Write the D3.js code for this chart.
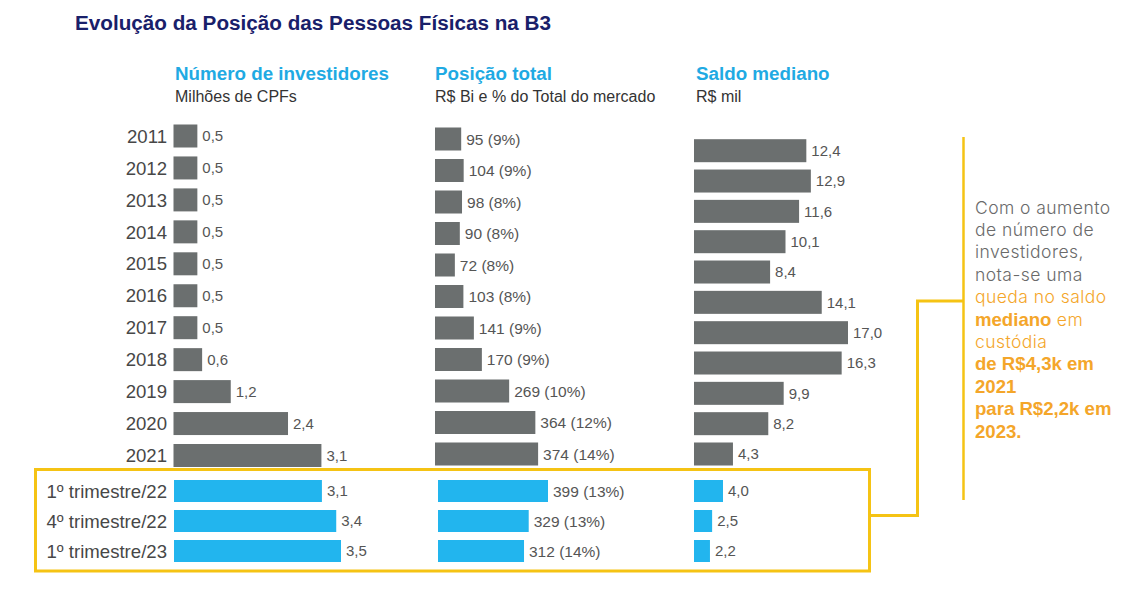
<!DOCTYPE html>
<html>
<head>
<meta charset="utf-8">
<script src="https://cdn.jsdelivr.net/npm/d3@7"></script>
<style>
  html, body { margin: 0; padding: 0; background: #ffffff; }
  svg { display: block; }
</style>
</head>
<body>
<svg id="chart" width="1147" height="604"></svg>
<script>
// ---------- DATA ----------
const years = ["2011","2012","2013","2014","2015","2016","2017","2018","2019","2020","2021"];
const quarters = ["1º trimestre/22","4º trimestre/22","1º trimestre/23"];

const investidoresAnual = [0.5,0.5,0.5,0.5,0.5,0.5,0.5,0.6,1.2,2.4,3.1];
const investidoresTrim = [3.1,3.4,3.5];

const posicaoAnual = [95,104,98,90,72,103,141,170,269,364,374];
const posicaoPctAnual = [9,9,8,8,8,8,9,9,10,12,14];
const posicaoTrim = [399,329,312];
const posicaoPctTrim = [13,13,14];

const saldoAnual = [12.4,12.9,11.6,10.1,8.4,14.1,17.0,16.3,9.9,8.2,4.3];
const saldoTrim = [4.0,2.5,2.2];

const titleText = "Evolução da Posição das Pessoas Físicas na B3";
const headers = [
  { title: "Número de investidores", sub: "Milhões de CPFs" },
  { title: "Posição total", sub: "R$ Bi e % do Total do mercado" },
  { title: "Saldo mediano", sub: "R$ mil" }
];
const noteLines = [
  [{t:"Com o aumento", s:"g"}],
  [{t:"de número de", s:"g"}],
  [{t:"investidores,", s:"g"}],
  [{t:"nota-se uma", s:"g"}],
  [{t:"queda no saldo", s:"o"}],
  [{t:"mediano", s:"ob"},{t:" em", s:"o"}],
  [{t:"custódia", s:"o"}],
  [{t:"de R$4,3k em", s:"ob"}],
  [{t:"2021", s:"ob"}],
  [{t:"para R$2,2k em", s:"ob"}],
  [{t:"2023.", s:"ob"}]
];

// ---------- STYLE ----------
const GREY = "#6b6f6f", BLUE = "#22b5ee", YEL = "#f5c314", ORANGE = "#f4a62a";
const NAVY = "#19206a", HBLUE = "#1faae3", TXT = "#474747", VAL = "#555555";
const FONT = "Liberation Sans, Arial, sans-serif";

const fmt = v => d3.format(".1f")(v).replace(".", ",");

const svg = d3.select("#chart");

// Title
svg.append("text").attr("x", 75).attr("y", 30)
  .attr("font-family", FONT).attr("font-weight", "bold").attr("font-size", 20.7)
  .attr("fill", NAVY).text(titleText);

// Column headers
const headX = [175, 435, 696];
headers.forEach((h, i) => {
  svg.append("text").attr("x", headX[i]).attr("y", 80)
    .attr("font-family", FONT).attr("font-weight", "bold").attr("font-size", 18.8)
    .attr("fill", HBLUE).text(h.title);
  svg.append("text").attr("x", headX[i]).attr("y", 102)
    .attr("font-family", FONT).attr("font-size", 16)
    .attr("fill", "#333").text(h.sub);
});

// Scales
const yAnual1 = d3.scalePoint().domain(years).range([136, 455.5]);
const yAnual2 = d3.scalePoint().domain(years).range([139, 454]);
const yAnual3 = d3.scalePoint().domain(years).range([150.7, 454]);
const yTrim = d3.scalePoint().domain(quarters).range([491, 551]);

const x1 = d3.scaleLinear().domain([0, 3.5]).range([0, 167]);
const x2 = d3.scaleLinear().domain([0, 399]).range([0, 110]);
const x3 = d3.scaleLinear().domain([0, 17]).range([0, 154]);
const x3t = d3.scaleLinear().domain([0, 4]).range([0, 29]);

function drawBars(cats, vals, y, x, x0, h, color, labelFn, fs) {
  const grp = svg.append("g");
  grp.selectAll("rect").data(vals).join("rect")
    .attr("x", x0).attr("y", (d, i) => y(cats[i]) - h / 2)
    .attr("width", d => x(d)).attr("height", h).attr("fill", color);
  grp.selectAll("text").data(vals).join("text")
    .attr("x", d => x0 + x(d) + 5).attr("y", (d, i) => y(cats[i]))
    .attr("dy", "0.36em")
    .attr("font-family", FONT).attr("font-size", fs).attr("fill", VAL)
    .text((d, i) => labelFn(d, i));
}

// Row labels
svg.append("g").selectAll("text").data(years).join("text")
  .attr("x", 167).attr("y", d => yAnual1(d)).attr("dy", "0.36em")
  .attr("text-anchor", "end").attr("font-family", FONT).attr("font-size", 18.6)
  .attr("fill", TXT).text(d => d);
svg.append("g").selectAll("text").data(quarters).join("text")
  .attr("x", 167).attr("y", d => yTrim(d)).attr("dy", "0.36em")
  .attr("text-anchor", "end").attr("font-family", FONT).attr("font-size", 18.6)
  .attr("fill", TXT).text(d => d);

// Column 1
drawBars(years, investidoresAnual, yAnual1, x1, 173.5, 23, GREY, d => fmt(d), 15);
drawBars(quarters, investidoresTrim, yTrim, x1, 174, 22, BLUE, d => fmt(d), 15);
// Column 2
drawBars(years, posicaoAnual, yAnual2, x2, 435, 23, GREY, (d, i) => `${d} (${posicaoPctAnual[i]}%)`, 15.5);
drawBars(quarters, posicaoTrim, yTrim, x2, 438, 22, BLUE, (d, i) => `${d} (${posicaoPctTrim[i]}%)`, 15.5);
// Column 3
drawBars(years, saldoAnual, yAnual3, x3, 694, 23, GREY, d => fmt(d), 15);
drawBars(quarters, saldoTrim, yTrim, x3t, 694, 22, BLUE, d => fmt(d), 15);

// Highlight box and connector
svg.append("rect").attr("x", 35.5).attr("y", 469.5).attr("width", 834).attr("height", 101.5)
  .attr("fill", "none").attr("stroke", YEL).attr("stroke-width", 3);
svg.append("path").attr("d", "M870,515.5 H917.5 V301 H963")
  .attr("fill", "none").attr("stroke", YEL).attr("stroke-width", 3);
svg.append("line").attr("x1", 963.5).attr("x2", 963.5).attr("y1", 137).attr("y2", 500)
  .attr("stroke", YEL).attr("stroke-width", 2.5);

// Note
const note = svg.append("text").attr("x", 975).attr("y", 213.5);
noteLines.forEach((line, li) => {
  line.forEach((seg, si) => {
    const ts = note.append("tspan").text(seg.t);
    if (si === 0) ts.attr("x", 975).attr("y", 213.5 + li * 22.4);
    if (seg.s === "g" || seg.s === "o") {
      ts.attr("fill", seg.s === "g" ? "#6a6a6a" : ORANGE)
        .attr("font-family", "Inter, sans-serif").attr("font-size", 17.5)
        .attr("font-weight", 300).attr("letter-spacing", 0.45);
    }
    if (seg.s === "ob") ts.attr("fill", ORANGE).attr("font-family", FONT).attr("font-size", 18.6).attr("font-weight", "bold");
  });
});
</script>
</body>
</html>
